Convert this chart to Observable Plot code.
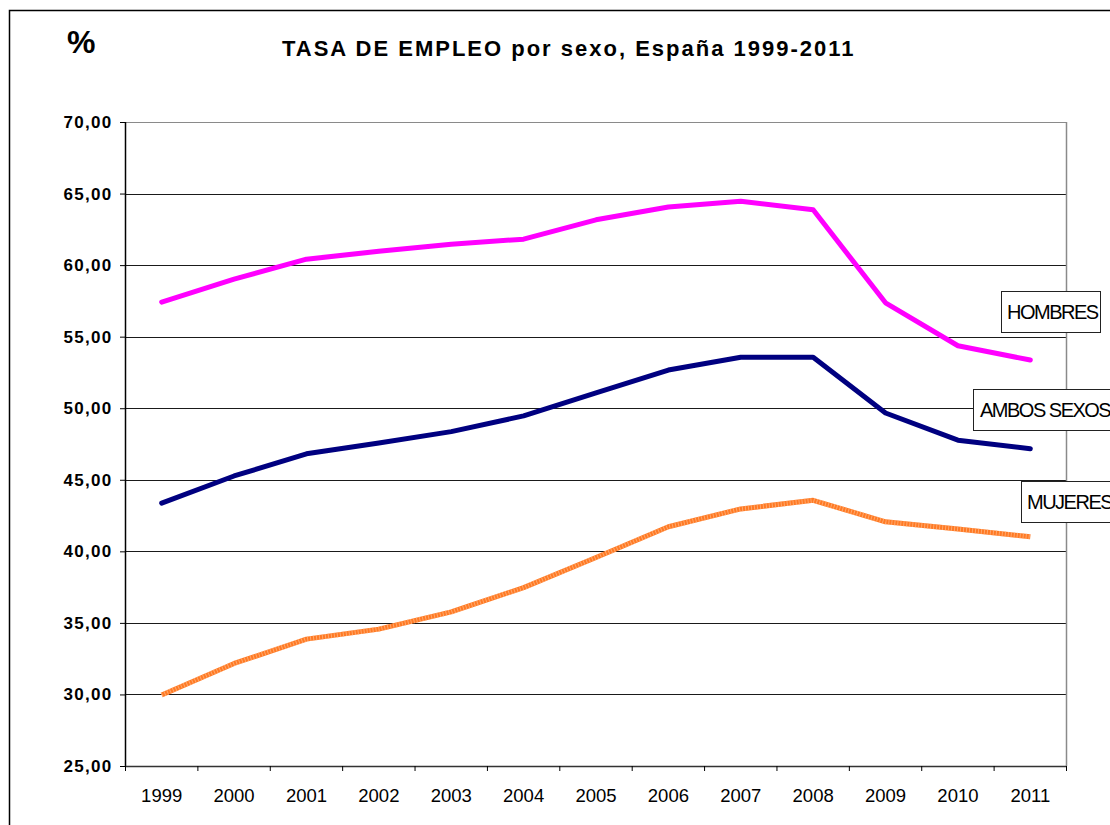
<!DOCTYPE html>
<html><head><meta charset="utf-8">
<script src="https://cdn.jsdelivr.net/npm/d3@7"></script>
<script src="https://cdn.jsdelivr.net/npm/@observablehq/plot@0.6"></script>
<style>
html,body{margin:0;padding:0;background:#fff;overflow:hidden}
#chart{position:relative;width:1110px;height:825px;overflow:hidden;background:#fff}
#chart svg{position:absolute;left:0;top:0}
.lbl{position:absolute;background:#fff;border:1px solid #222;font-family:"Liberation Sans",Arial,sans-serif;font-size:20px;letter-spacing:-1.5px;color:#000;box-sizing:border-box;white-space:nowrap;display:flex;align-items:center;height:42px}
</style></head><body><div id="chart"></div>
<script>
const years = [1999,2000,2001,2002,2003,2004,2005,2006,2007,2008,2009,2010,2011];
const hombres = [57.45,59.05,60.45,61.0,61.5,61.85,63.2,64.1,64.5,63.9,57.4,54.4,53.4];
const ambos   = [43.4,45.3,46.85,47.6,48.4,49.5,51.1,52.7,53.6,53.6,49.7,47.8,47.2];
const mujeres = [30.0,32.2,33.9,34.6,35.8,37.5,39.6,41.75,43.0,43.6,42.1,41.6,41.05];
const seriesNames = ["HOMBRES","AMBOS SEXOS","MUJERES"];
const yTicks = [25,30,35,40,45,50,55,60,65,70];
const title = "TASA DE EMPLEO por sexo, España 1999-2011";
const unitLabel = "%";

const rows = (vals) => years.map((y,i)=>({year:y, value:vals[i]}));
const boundaries = years.map(y=>y-0.5).concat([years[years.length-1]+0.5]);
const fmt = d => d.toFixed(2).replace(".", ",");
const x0 = years[0]-0.5, x1 = years[years.length-1]+0.5;

const plot = Plot.plot({
  width:1110, height:825, marginLeft:125, marginRight:44, marginTop:122, marginBottom:59,
  style:{fontFamily:"Liberation Sans, Arial, sans-serif", background:"#fff", overflow:"hidden", color:"#000"},
  x:{domain:[x0,x1], label:null},
  y:{domain:[25,70], label:null},
  marks:[
    Plot.gridY(yTicks, {stroke:"#1a1a1a", strokeOpacity:1, strokeWidth:1, shapeRendering:"crispEdges"}),
    Plot.ruleY([70], {stroke:"#8a8a8a", shapeRendering:"crispEdges"}),
    Plot.ruleX([x1], {stroke:"#8a8a8a", strokeWidth:1.5}),
    Plot.ruleX([x0], {stroke:"#000", strokeWidth:1.5}),
    Plot.ruleY([25], {stroke:"#333", strokeWidth:1.5}),
    Plot.axisY(yTicks, {tickSize:5, tickPadding:8, tickFormat:fmt, fontSize:17, fontWeight:"bold"}),
    Plot.axisX(boundaries, {tickSize:5, tickFormat:()=>""}),
    Plot.axisX(years, {tickSize:0, tickPadding:22, tickFormat:d=>String(d), fontSize:18.5}),
    Plot.line(rows(mujeres), {x:"year", y:"value", stroke:"#ff7a24", strokeWidth:5, strokeLinejoin:"round", strokeLinecap:"butt"}),
    Plot.line(rows(mujeres), {x:"year", y:"value", stroke:"#ffb784", strokeWidth:5, strokeOpacity:0.75, strokeDasharray:"1 2", strokeLinejoin:"round", strokeLinecap:"butt"}),
    Plot.line(rows(ambos), {x:"year", y:"value", stroke:"#000080", strokeWidth:5, strokeLinejoin:"round", strokeLinecap:"round"}),
    Plot.line(rows(hombres), {x:"year", y:"value", stroke:"#ff00ff", strokeWidth:5, strokeLinejoin:"round", strokeLinecap:"round"})
  ]
});

const svg = d3.select(plot);
svg.selectAll('g[aria-label="y-axis tick label"] text').attr("letter-spacing","1.3px");

// frame
svg.append("path").attr("d","M9.5,830V10.5H1115").attr("fill","none").attr("stroke","#000").attr("stroke-width",1.5);
// title and unit
svg.append("text").attr("x",282).attr("y",56).attr("font-size",22).attr("font-weight","bold")
  .attr("text-anchor","start").attr("letter-spacing","2px").attr("fill","#000").text(title);
svg.append("text").attr("x",67).attr("y",53).attr("font-size",32).attr("font-weight","bold")
  .attr("text-anchor","start").attr("fill","#000").text(unitLabel);

const chart = document.getElementById("chart");
chart.appendChild(plot);

const boxes = [
  {name:seriesNames[0], left:1001, top:291, width:100, pad:5},
  {name:seriesNames[1], left:973, top:389, width:200, pad:6},
  {name:seriesNames[2], left:1021, top:481, width:150, pad:5}
];
for (const b of boxes) {
  const d = document.createElement("div");
  d.className = "lbl";
  d.style.left = b.left+"px"; d.style.top = b.top+"px"; d.style.width = b.width+"px";
  d.style.paddingLeft = b.pad+"px";
  d.textContent = b.name;
  chart.appendChild(d);
}
</script></body></html>
